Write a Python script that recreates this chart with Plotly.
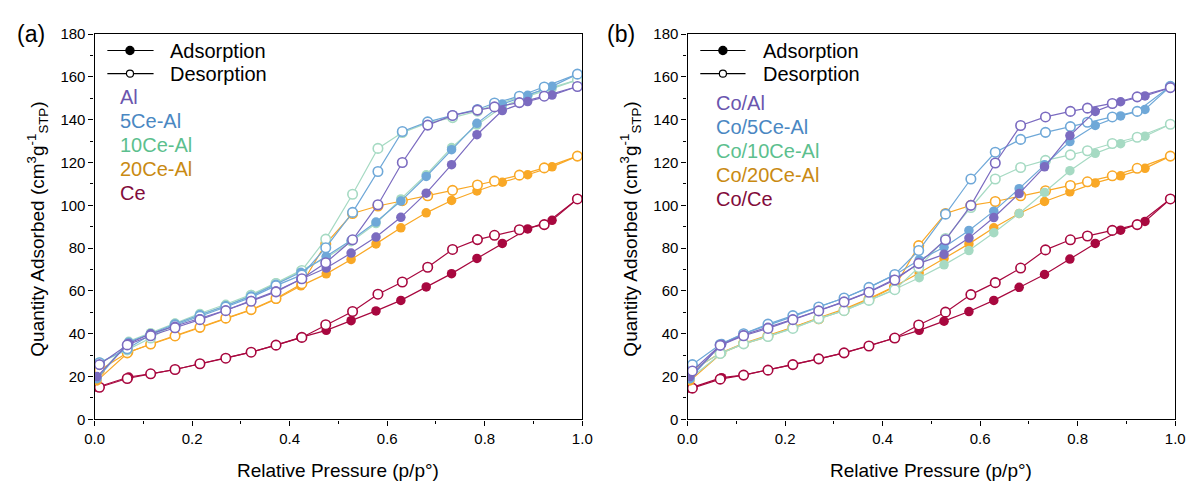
import plotly.graph_objects as go

W, H = 1199, 495

# ---------------- data ----------------
ads_x = [0.005, 0.07, 0.115, 0.165, 0.216, 0.269, 0.321, 0.372, 0.423, 0.475,
         0.526, 0.577, 0.628, 0.68, 0.732, 0.784, 0.836, 0.888, 0.938, 0.99]
des_x = [0.99, 0.922, 0.871, 0.82, 0.785, 0.734, 0.683, 0.631, 0.581, 0.529,
         0.474, 0.425, 0.372, 0.321, 0.269, 0.216, 0.165, 0.115, 0.067, 0.01]

# panel (a)
al_ads = [20, 35.5, 40, 43.5, 47, 51, 55.5, 60, 65.5, 70.7, 77.7, 85.2, 94.4, 105.7, 119, 133, 144.3, 148.5, 151.5, 155.5]
al_des = [155.5, 151, 148, 146, 144.5, 142, 137.5, 120, 100.3, 83.9, 73.2, 65.7, 59.6, 55.2, 50.8, 46.6, 42.8, 39.1, 34.8, 25.6]
ce5_ads = [19, 36.1, 40, 44.6, 48.9, 53.1, 57.6, 63.1, 68.7, 76.2, 83.7, 92.2, 102, 113.5, 126, 138.3, 147.3, 151.4, 155.6, 161.3]
ce5_des = [161.3, 155.3, 151, 147.8, 144.8, 142, 139, 134.5, 115.8, 96.7, 80.2, 67.5, 62.5, 57, 52.5, 48.2, 44, 39.5, 33, 26.5]
ce10_ads = [19.5, 36.5, 40.5, 45, 49.5, 53.8, 58.3, 63.8, 69.5, 75.5, 83, 91.5, 103, 114.3, 127, 137.5, 146, 151, 154.5, 158.6]
ce10_des = [158.6, 154, 150.5, 147, 144, 141, 138.5, 134, 126.6, 105.2, 84.2, 69.6, 63.5, 58, 53, 48.5, 44.5, 38, 32.5, 26.5]
ce20_ads = [18, 31.5, 35, 38.8, 42.8, 47.1, 51.1, 56.1, 62.4, 68, 74.7, 82, 89.5, 96.5, 102.3, 106.7, 110.8, 114.3, 118, 123]
ce20_des = [123, 117.5, 114.1, 111.3, 109.5, 107, 104.5, 102.2, 99.7, 96.2, 82, 63.4, 56.5, 51.3, 47.3, 43, 39, 35.2, 31.1, 23]
ce_ads = [15, 19.8, 21.3, 23.3, 26, 28.6, 31.4, 34.7, 38.3, 41.6, 46.1, 50.7, 55.6, 61.9, 68.1, 75.2, 82.2, 89, 93, 103]
ce_des = [103, 91, 88.6, 86, 84, 79.4, 71.1, 64.2, 58.5, 50.4, 44.2, 38.3, 34.7, 31.4, 28.6, 26, 23.3, 21.3, 19.1, 15]

# panel (b)
coal_ads = [20, 35, 39.5, 43, 46.8, 50.9, 55, 59.6, 65.4, 72.9, 77.1, 84.7, 94.3, 105.5, 118, 132.6, 143.9, 148.4, 151.1, 155]
coal_des = [155, 150.7, 147.6, 145.4, 143.9, 141.3, 137.3, 119.8, 100, 83.9, 72.9, 65.1, 59.4, 54.9, 50.7, 46.6, 42.5, 39.1, 34.6, 22.6]
co5_ads = [19, 35.5, 40.1, 44, 48, 52.5, 56.7, 61.7, 67.2, 74.5, 80.4, 88.3, 97.3, 107.8, 119, 129.8, 137.3, 141.8, 144.8, 155.6]
co5_des = [155.6, 143.9, 141.3, 138.8, 136.8, 134.1, 130.8, 124.8, 112.3, 95.9, 78.9, 67.7, 61.7, 56.7, 52.5, 48.5, 44.5, 40, 35, 25.6]
co10_ads = [19, 31, 35.3, 38.7, 42.5, 47.1, 50.8, 55.6, 60.6, 66.2, 72.2, 78.9, 87.2, 96.2, 106, 116.2, 124.3, 128.8, 132.3, 137.9]
co10_des = [137.9, 131.8, 128.9, 125.5, 123.6, 121, 117.7, 112.3, 99, 84.5, 71, 60.6, 55.6, 50.8, 47.1, 42.5, 38.7, 35.3, 30.8, 23.3]
co20_ads = [18, 31, 35.3, 38.7, 43, 47.5, 51.5, 56.5, 62, 68.4, 75.2, 82, 89.5, 96.2, 101.8, 106.3, 110.5, 113.8, 117.3, 123]
co20_des = [123, 117.3, 113.8, 111, 109.3, 106.8, 104.5, 101.8, 100, 96.2, 81.2, 62, 56, 51, 47, 43, 39, 35.5, 31, 23]
coce_ads = [14.6, 19.5, 20.7, 23, 25.6, 28.3, 31.1, 34.3, 38, 41.6, 45.9, 50.4, 55.6, 61.7, 67.7, 74.9, 82.2, 88.4, 92.5, 103]
coce_des = [103, 91, 88.3, 85.7, 83.9, 79.2, 70.7, 63.9, 58.3, 50.1, 44.1, 38, 34.3, 31.1, 28.3, 25.6, 23, 20.7, 18.8, 14.6]

names_a = ["Al", "5Ce-Al", "10Ce-Al", "20Ce-Al", "Ce"]
names_b = ["Co/Al", "Co/5Ce-Al", "Co/10Ce-Al", "Co/20Ce-Al", "Co/Ce"]
series_a = [(al_ads, al_des), (ce5_ads, ce5_des), (ce10_ads, ce10_des), (ce20_ads, ce20_des), (ce_ads, ce_des)]
series_b = [(coal_ads, coal_des), (co5_ads, co5_des), (co10_ads, co10_des), (co20_ads, co20_des), (coce_ads, coce_des)]

x_ticks = [0.0, 0.2, 0.4, 0.6, 0.8, 1.0]
x_ticklabels = ["0.0", "0.2", "0.4", "0.6", "0.8", "1.0"]
y_ticks = [0, 20, 40, 60, 80, 100, 120, 140, 160, 180]

# ---------------- styling ----------------
mark_cols = ["#7B6BC0", "#6FA8D8", "#A6DAC3", "#F9A826", "#A8083F"]
text_cols = ["#6A55AE", "#4A87C2", "#5CBF8E", "#C98A12", "#820B3A"]
FONT = "Arial, Liberation Sans, sans-serif"

def px(x):
    return x / W

def py(y):
    return 1 - y / H

fig = go.Figure()

panels = [("x", "y", series_a), ("x2", "y2", series_b)]
draw_order = [4, 3, 2, 1, 0]
for xa, ya, ser in panels:
    for i in draw_order:
        ads, des = ser[i]
        c = mark_cols[i]
        fig.add_trace(go.Scatter(x=ads_x, y=ads, mode="lines+markers", xaxis=xa, yaxis=ya,
                                 line=dict(color=c, width=1.2),
                                 marker=dict(size=9.5, color=c, line=dict(width=0)),
                                 showlegend=False, hoverinfo="skip"))
        fig.add_trace(go.Scatter(x=des_x, y=des, mode="lines+markers", xaxis=xa, yaxis=ya,
                                 line=dict(color=c, width=1.2),
                                 marker=dict(size=9.5, color="white", line=dict(width=1.6, color=c)),
                                 showlegend=False, hoverinfo="skip"))

ydom = [py(425), py(26)]
xdom_a = [px(86), px(582)]
xdom_b = [px(689), px(1185)]

axis_common = dict(showgrid=False, zeroline=False, showline=True, linecolor="black", linewidth=1.3,
                   mirror=True, ticks="outside", ticklen=5, tickwidth=1.2, tickcolor="black",
                   tickfont=dict(family=FONT, size=15, color="black"))
xcommon = dict(axis_common, range=[0, 1], tickvals=x_ticks, ticktext=x_ticklabels,
               minor=dict(dtick=0.1, ticks="outside", ticklen=3, tickwidth=1.2, tickcolor="black"))
ycommon = dict(axis_common, range=[0, 180], tickvals=y_ticks,
               minor=dict(dtick=10, ticks="outside", ticklen=3, tickwidth=1.2, tickcolor="black"))

fig.update_layout(
    width=W, height=H, margin=dict(l=0, r=0, t=0, b=0),
    paper_bgcolor="white", plot_bgcolor="white",
    xaxis=dict(xcommon, domain=xdom_a, anchor="y"),
    yaxis=dict(ycommon, domain=ydom, anchor="x"),
    xaxis2=dict(xcommon, domain=xdom_b, anchor="y2"),
    yaxis2=dict(ycommon, domain=ydom, anchor="x2"),
    showlegend=False,
)

ann = []
shapes = []

def text(x, y, s, size=20, color="black", xanchor="left", angle=0):
    ann.append(dict(x=px(x), y=py(y), xref="paper", yref="paper", text=s, showarrow=False,
                    xanchor=xanchor, yanchor="middle", textangle=angle,
                    font=dict(family=FONT, size=size, color=color)))

# panel labels
text(5, 26, "(a)", size=23)
text(605, 26, "(b)", size=23)

# axis titles
for cx in [(86 + 582) / 2, (689 + 1185) / 2]:
    text(cx, 478, "Relative Pressure (p/p°)", size=19, xanchor="center")
for cx in [28, 631]:
    text(cx, 228, "Quantity Adsorbed (cm<sup>3</sup>g<sup>-1</sup><sub>STP</sub>)", size=19,
         xanchor="center", angle=-90)

# legends
legend_cfg = [
    (99, 146, 122, 161, 110, [91, 116, 141, 166, 191], names_a),
    (702, 748, 725, 764, 716, [97, 122, 147, 172, 197], names_b),
]
for x0, x1, xm, xt, xc, rows, names in legend_cfg:
    for yy, filled, lab in [(43, True, "Adsorption"), (67, False, "Desorption")]:
        shapes.append(dict(type="line", xref="paper", yref="paper", x0=px(x0), x1=px(x1),
                           y0=py(yy), y1=py(yy), line=dict(color="black", width=1.2)))
        r = 4.2 if filled else 3.6
        shapes.append(dict(type="circle", xref="paper", yref="paper",
                           x0=px(xm - r), x1=px(xm + r), y0=py(yy + r), y1=py(yy - r),
                           fillcolor="black" if filled else "white",
                           line=dict(color="black", width=1.2)))
        text(xt, yy, lab, size=20)
    for yy, nm, tc in zip(rows, names, text_cols):
        text(xc, yy, nm, size=20, color=tc)

fig.update_layout(annotations=ann, shapes=shapes)
fig.write_html("out.html")
